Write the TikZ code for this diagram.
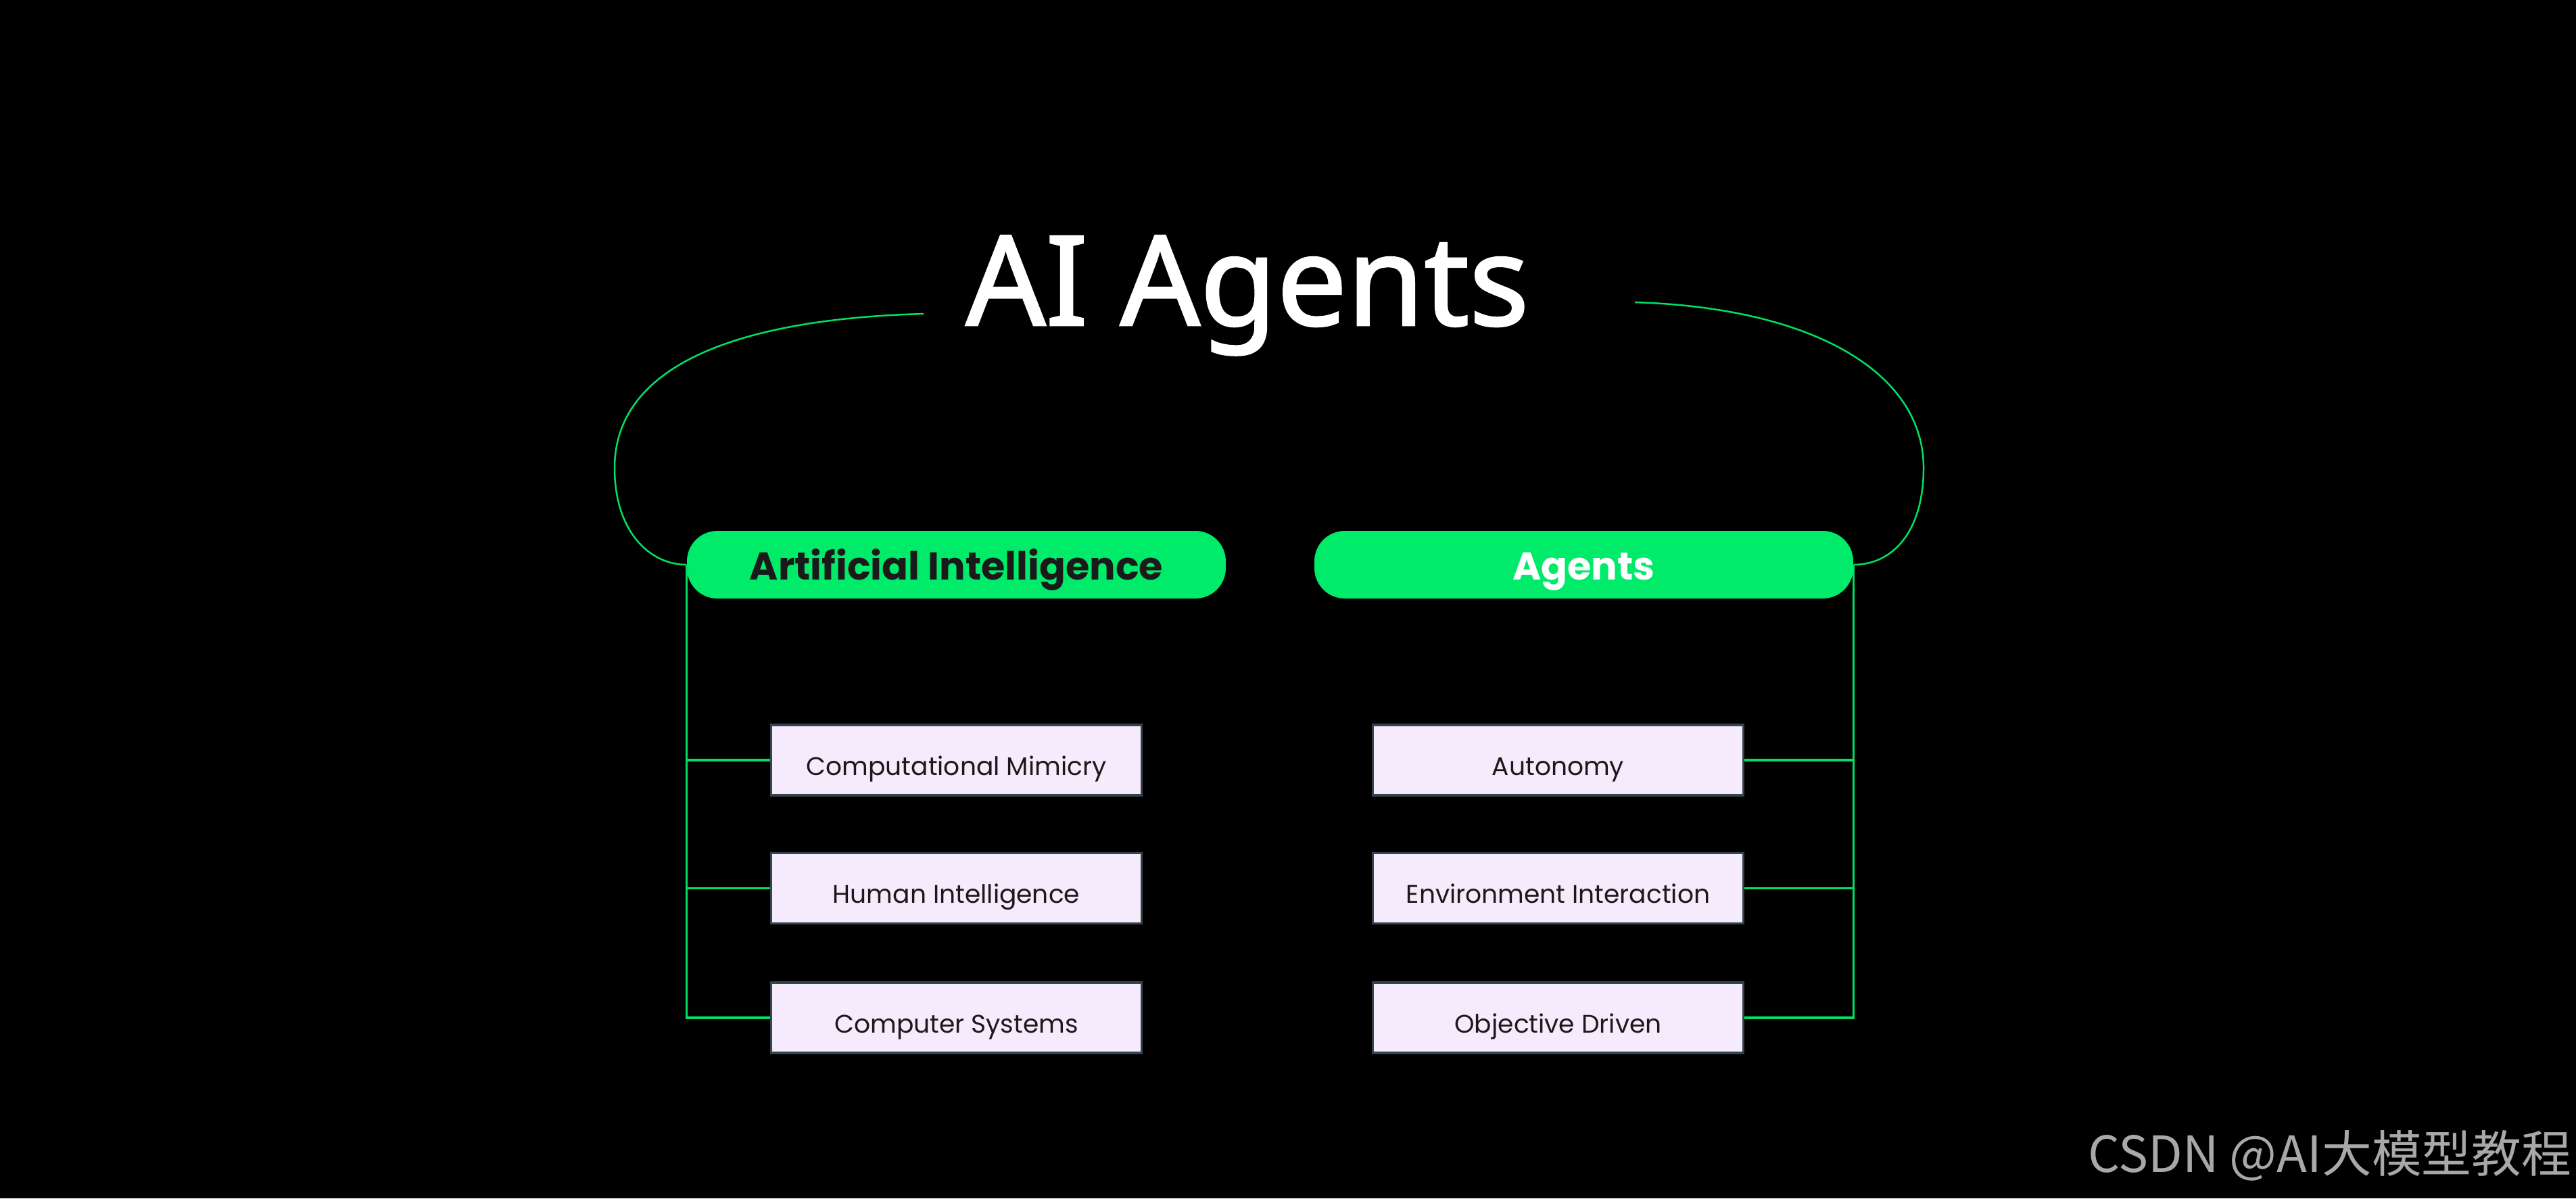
\documentclass[tikz,border=0pt]{standalone}
\usepackage{fontspec}
\setmainfont{Noto Sans}
\newfontfamily\ttlfont{Noto Sans}[FakeBold=1.6]
\newfontfamily\pop{Poppins}
\newfontfamily\cjk{Noto Sans CJK SC}
\definecolor{bg}{HTML}{000000}
\definecolor{gr}{HTML}{00EB6A}
\definecolor{grl}{HTML}{00E064}
\definecolor{boxfill}{HTML}{F6EAFD}
\definecolor{boxdraw}{HTML}{34444C}
\definecolor{txt}{HTML}{1A1A1A}
\definecolor{wm}{HTML}{A8A8A8}
\tikzset{
  pill/.style={fill=gr, draw=none, rounded corners=0.45cm, minimum width=7.97cm, minimum height=1.0cm, inner sep=0pt, text height=0.44cm, text depth=0cm, font=\pop\bfseries\fontsize{16.3}{18}\selectfont},
  leaf/.style={fill=boxfill, draw=boxdraw, line width=0.035cm, minimum width=5.48cm, minimum height=1.04cm, inner sep=0pt, text height=0.44cm, text depth=0cm, text=txt, font=\pop\fontsize{10.7}{13}\selectfont},
  arcline/.style={draw=grl, line width=0.025cm},
  branch/.style={draw=grl, line width=0.035cm}
}
\begin{document}
\begin{tikzpicture}[x=1cm,y=1cm]
\fill[bg] (0,0) rectangle (38.10,-17.72);
\useasboundingbox (0,0) rectangle (38.10,-17.72);
% title
\node[anchor=base, text=white, font=\ttlfont\fontsize{52.5}{60}\selectfont, inner sep=0pt] (title) at (18.45,-4.81) {AI Agents};
% pills
\node[pill, text=txt] (ai) at (14.145,-8.35) {Artificial Intelligence};
\node[pill, text=white] (ag) at (23.425,-8.35) {Agents};
% leaves
\node[leaf] (cm) at (14.145,-11.24) {Computational Mimicry};
\node[leaf] (hi) at (14.145,-13.135) {Human Intelligence};
\node[leaf] (cs) at (14.145,-15.05) {Computer Systems};
\node[leaf] (au) at (23.045,-11.24) {Autonomy};
\node[leaf] (ei) at (23.045,-13.135) {Environment Interaction};
\node[leaf] (od) at (23.045,-15.05) {Objective Driven};
% arcs
\coordinate (la) at (13.66,-4.64);
\coordinate (ra) at (24.18,-4.47);
\draw[arcline] (la) .. controls (10.8,-4.72) and (9.09,-5.45) .. (9.09,-6.92) .. controls (9.09,-7.85) and (9.6,-8.35) .. (ai.west);
\draw[arcline] (ra) .. controls (26.8,-4.55) and (28.45,-5.5) .. (28.45,-6.92) .. controls (28.45,-7.85) and (28.0,-8.35) .. (ag.east);
% branches
\draw[branch] (ai.west) |- (cm.west);
\draw[branch] (ai.west) |- (hi.west);
\draw[branch] (ai.west) |- (cs.west);
\draw[branch] (ag.east) |- (au.east);
\draw[branch] (ag.east) |- (ei.east);
\draw[branch] (ag.east) |- (od.east);
% watermark
\node[anchor=base east, text=wm, font=\cjk\fontsize{21}{23}\selectfont, inner sep=0pt] (wmk) at (38.04,-17.33) {CSDN @AI大模型教程};
\end{tikzpicture}
\end{document}
